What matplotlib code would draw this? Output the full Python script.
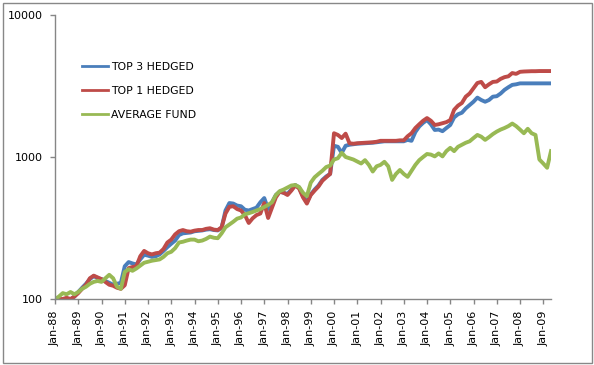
import numpy as np
import matplotlib
matplotlib.use("Agg")
import matplotlib.pyplot as plt
from matplotlib.patches import Rectangle

# two-monthly readings, Jan-88 .. May-09 (month index from Jan-88)
months = np.arange(0, 257, 2)

top3_hedged = [
    100, 100, 98, 100, 99, 104, 112, 120, 128, 138, 145, 140, 138, 134, 130, 126, 128, 130,
    170, 182, 178, 175, 190, 205, 202, 198, 200, 206, 218, 232, 245, 258, 282, 290, 292, 294,
    300, 302, 304, 308, 310, 306, 304, 318, 420, 474, 470, 455, 450, 425, 420, 430, 440, 480,
    514, 430, 480, 540, 570, 560, 550, 590, 635, 610, 530, 480, 545, 590, 630, 690, 730, 760,
    1200, 1180, 1070, 1200, 1220, 1230, 1240, 1245, 1250, 1255, 1260, 1270, 1280, 1290, 1290, 1290,
    1290, 1290, 1290, 1320, 1300, 1500, 1640, 1740, 1820, 1700, 1550, 1560, 1520, 1600, 1680, 1900,
    2000, 2050, 2200, 2320, 2450, 2620, 2520, 2450, 2520, 2660, 2680, 2800, 2970, 3100, 3220, 3250,
    3300, 3300, 3300, 3300, 3300, 3300, 3300, 3300, 3300,
]
top1_hedged = [
    100, 100, 100, 102, 100, 104, 110, 118, 126, 140, 146, 142, 138, 132, 126, 124, 120, 118,
    125, 165, 168, 170, 200, 218, 210, 206, 210, 212, 225, 250, 262, 285, 300, 306, 300, 298,
    303, 306, 306, 312, 315, 308, 306, 320, 400, 446, 450, 430, 420, 390, 343, 370, 390, 400,
    474, 372, 440, 520, 570, 560, 540, 580, 630, 600, 520, 470, 540, 580, 620, 680, 720, 760,
    1470, 1430, 1360, 1460, 1250, 1240, 1250, 1255, 1260, 1265, 1270, 1280, 1300, 1300, 1300, 1300,
    1300, 1310, 1310, 1400, 1470, 1600, 1700, 1800, 1880, 1800, 1680, 1700, 1730, 1760, 1820, 2150,
    2300, 2400, 2660, 2800, 3050, 3320, 3380, 3100, 3250, 3380, 3400, 3550, 3650, 3700, 3900, 3850,
    3980, 4000, 4010, 4020, 4020, 4030, 4030, 4030, 4030,
]
average_fund = [
    100, 104, 110, 108, 112, 108, 112, 118, 122, 128, 132, 134, 132, 140, 148, 140, 122, 118,
    155, 162, 158, 164, 172, 180, 183, 186, 188, 190, 198, 210, 215, 228, 250, 253, 258, 262,
    262, 255, 258, 265, 275, 270, 268, 290, 320, 335, 350, 368, 375, 395, 402, 410, 420, 430,
    445, 460, 480, 540, 575, 590, 610, 630, 635, 615, 560, 530, 660, 720, 760, 800, 850, 870,
    960, 980, 1070, 1000, 980, 960, 930, 900, 950, 880, 790, 860, 880, 925, 860, 690,
    760, 810, 760, 725, 800, 880, 950, 1000, 1050, 1040, 1010, 1060, 1010, 1100, 1160, 1100,
    1180, 1220, 1260, 1290, 1360, 1430, 1390, 1320, 1380, 1450, 1510, 1560, 1600, 1650, 1720, 1650,
    1560, 1470, 1580, 1470, 1430, 960, 900, 840, 1100,
]

tick_labels = ["Jan-%02d" % (y % 100) for y in range(1988, 2010)]
tick_months = np.arange(len(tick_labels)) * 12

W, H = 594, 365
fig = plt.figure(figsize=(W / 100, H / 100), dpi=100)
ax = fig.add_axes([55 / W, 1 - 299 / H, (551 - 55) / W, (299 - 15) / H])

lw = 2.8
ax.plot(months, top3_hedged, color="#4A7EBB", lw=lw, label="TOP 3 HEDGED")
ax.plot(months, top1_hedged, color="#BE4B48", lw=lw, label="TOP 1 HEDGED")
ax.plot(months, average_fund, color="#98B954", lw=lw, label="AVERAGE FUND")

ax.set_yscale("log")
ax.set_ylim(100, 10000)
ax.set_yticks([100, 1000, 10000])
ax.set_yticklabels(["100", "1000", "10000"])
ax.yaxis.set_minor_locator(matplotlib.ticker.NullLocator())
ax.set_xlim(0, 256)
ax.set_xticks(tick_months)
ax.set_xticklabels(tick_labels, rotation=90)

for s in ["top", "right"]:
    ax.spines[s].set_visible(False)
for s in ["left", "bottom"]:
    ax.spines[s].set_color("#868686")
    ax.spines[s].set_linewidth(1.0)
ax.tick_params(axis="both", direction="out", length=3.6, width=1, color="#868686",
               labelsize=8, labelcolor="black", pad=5)

leg = ax.legend(loc="center left", bbox_to_anchor=(82 / W, 1 - 91 / H),
                bbox_transform=fig.transFigure, frameon=False, fontsize=7.8,
                handlelength=2.4, handletextpad=0.3, labelspacing=1.3,
                borderpad=0, borderaxespad=0)
for h in leg.get_lines():
    h.set_linewidth(2.0)

fig.add_artist(Rectangle((2.5 / W, 2.5 / H), 1 - 5 / W, 1 - 5 / H,
                         transform=fig.transFigure, fill=False,
                         edgecolor="#888888", lw=1.0))

fig.savefig("out.png", dpi=100)
